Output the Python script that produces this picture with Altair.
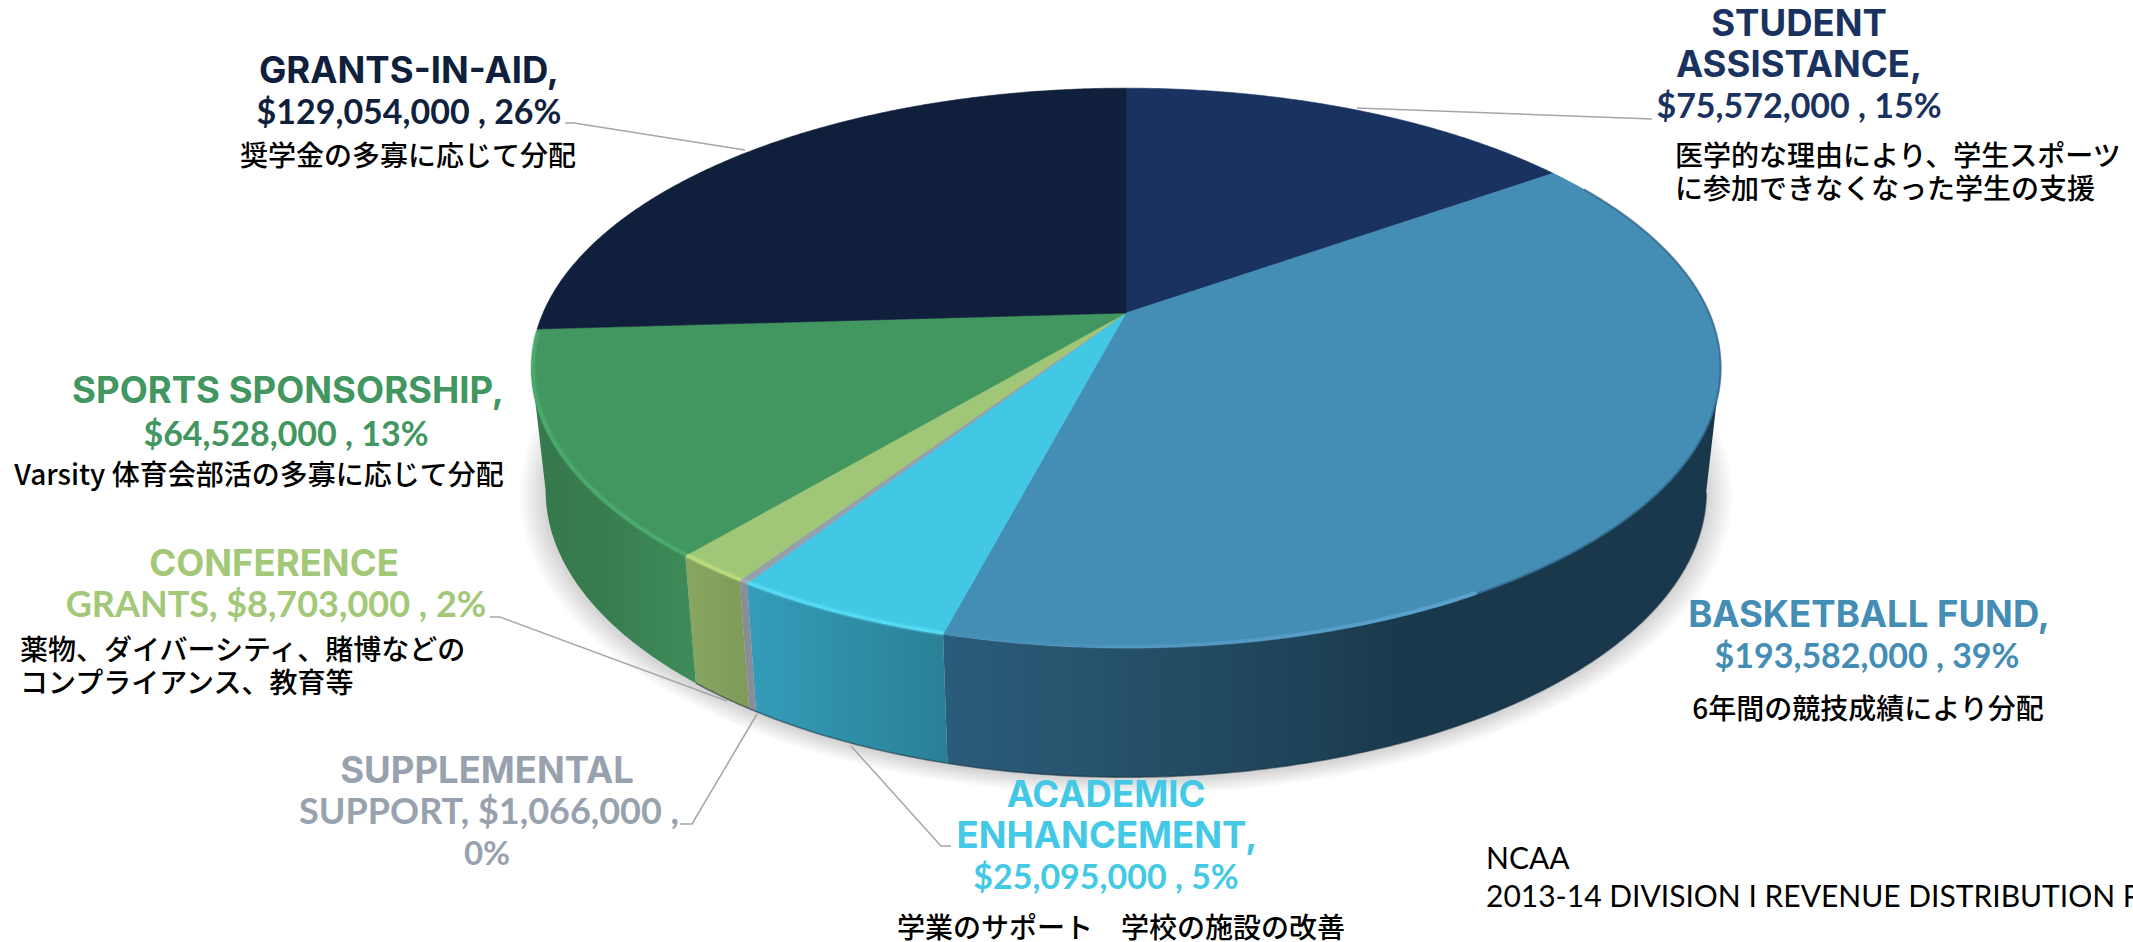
import numpy as np
import pandas as pd
import altair as alt

# Distribution amounts, clockwise from twelve o'clock
categories = ["Student Assistance", "Basketball Fund", "Academic Enhancement",
              "Supplemental Support", "Conference Grants", "Sports Sponsorship", "Grants-in-Aid"]
amounts = [75572000, 193582000, 25095000, 1066000, 8703000, 64528000, 129054000]
top_colors = ["#1a3260", "#448db5", "#42c8e4", "#95a0ad", "#a0c677", "#429660", "#101f3b"]

W, H = 2133, 942

# Perspective disc: centre of the top face, axes, depth of the bottom face
CX, CY = 1126, 313
A, B, K = 583, 269, 0.1964
A2, B2, CY2 = 569, 275, 435

cum = np.cumsum([0] + amounts) / sum(amounts) * 360.0
LEFT_EXTREME = 258.7
RIGHT_EXTREME = 101.3


def rim(t1, t2, a=A, b=B, cy=CY, step=0.4):
    th = np.radians(np.append(np.arange(t1, t2, step), t2))
    u, v = np.sin(th), -np.cos(th)
    d = 1 - K * v
    return list(zip(CX + a * u / d, cy + b * v / d))


def scales():
    return (alt.X("x:Q", scale=alt.Scale(domain=[0, W], nice=False), axis=None),
            alt.Y("y:Q", scale=alt.Scale(domain=[H, 0], nice=False), axis=None))


def path(pts, **mark):
    df = pd.DataFrame(pts, columns=["x", "y"])
    df["i"] = range(len(df))
    x, y = scales()
    return alt.Chart(df).mark_line(**mark).encode(x=x, y=y, order=alt.Order("i:Q", sort="ascending"))


def ramp(stops, horizontal=True):
    return alt.Gradient(gradient="linear", x1=0, y1=0, x2=1 if horizontal else 0, y2=0 if horizontal else 1,
                        stops=[alt.GradientStop(offset=o, color=c) for o, c in stops])


layers = []

# Soft shadow under the disc
for n in range(14, 0, -1):
    g = n / 14
    a, b = A2 + 26 * g, B2 + 13 * g
    layers.append(path(rim(0, 360, a, b, CY2 + 2), fill="#000000", fillOpacity=0.011, strokeWidth=0))

# Front wall of each visible slice
walls = {
    1: (RIGHT_EXTREME, cum[2], [(0, "#2b5c7b"), (0.18, "#27536d"), (0.46, "#1e4358"), (0.6, "#1a384b"), (1, "#1a384b")]),
    2: (cum[2], cum[3], [(0, "#349db9"), (1, "#2a8096")]),
    3: (cum[3], cum[4], [(0, "#888d98"), (1, "#888d98")]),
    4: (cum[4], cum[5], [(0, "#89a661"), (1, "#7d9a59")]),
    5: (cum[5], LEFT_EXTREME, [(0, "#3f8b59"), (0.6, "#377c4f"), (1, "#35784b")]),
}
for idx, (t1, t2, stops) in walls.items():
    pts = rim(t1, t2) + rim(t1, t2, A2, B2, CY2)[::-1]
    if idx == 5:
        stops = [(1 - o, c) for o, c in stops][::-1]
    layers.append(path(pts, fill=ramp(stops), strokeWidth=0))

# Darker line where the wall meets the ground
layers.append(path(rim(cum[1] + 47, cum[5], A2, B2, CY2), stroke="#17303f", strokeWidth=1.6,
                   strokeOpacity=0.55))

# Top face of every slice
for i, c in enumerate(top_colors):
    pts = [(CX, CY)] + rim(cum[i], cum[i + 1]) + [(CX, CY)]
    layers.append(path(pts, fill=c, stroke=c, strokeWidth=0.6))

# Bevel highlight along the front rim
bevels = {
    5: ("#4fb573", cum[5], 266.0),
    4: ("#c8e67c", cum[4], cum[5]),
    3: ("#a9b2bd", cum[3], cum[4]),
    2: ("#5fe3fb", cum[2], cum[3]),
}
RA, RB = A * 0.997, B * 0.997
for i, (c, t1, t2) in bevels.items():
    line = rim(t1, t2, RA, RB)
    layers.append(path(line, stroke=c, strokeWidth=6, strokeOpacity=0.28))
    layers.append(path(line, stroke=c, strokeWidth=3, strokeOpacity=0.55))
layers.append(path(rim(150, cum[2], RA, RB),
                   stroke=ramp([(0, "rgba(96,168,212,0)"), (0.6, "rgba(96,168,212,0.55)"), (1, "rgba(96,168,212,0.8)")]),
                   strokeWidth=4))
# Shaded soft edge on the right of the disc
layers.append(path(rim(cum[1] + 5, 150), stroke="#2b5f80", strokeWidth=2.2, strokeOpacity=0.65))

# Leader lines from the slices to their labels
leaders = [
    [(1357, 108), (1652, 119)],
    [(565, 123), (574, 123), (745, 150)],
    [(490, 617), (500, 617), (727, 701)],
    [(680, 824), (692, 824), (757, 714)],
    [(951, 846), (941, 846), (851, 746)],
]
for leader in leaders:
    layers.append(path(leader, stroke="#a6a6a6", strokeWidth=1.5))

x, y = scales()

NAVY, INK, GREEN, LIME, GREY, CYAN, BLUE = "#1a3260", "#101f3b", "#429660", "#a2c878", "#98a2ae", "#43c9e6", "#448db5"

# Capitalised label lines
caps_text = ["STUDENT", "ASSISTANCE,", "GRANTS-IN-AID,", "SPORTS SPONSORSHIP,", "CONFERENCE",
             "SUPPLEMENTAL", "ACADEMIC", "ENHANCEMENT,", "BASKETBALL FUND,"]
caps_x = [1799, 1799, 409, 288, 274, 487, 1106, 1107, 1869]
caps_y = [36, 77, 83, 403, 576, 783, 807, 848, 627]
caps_c = [NAVY, NAVY, INK, GREEN, LIME, GREY, CYAN, CYAN, BLUE]
caps = pd.DataFrame({"x": caps_x, "y": caps_y, "t": caps_text, "c": caps_c})
layers.append(alt.Chart(caps).mark_text(font="Inter", fontWeight="bold", fontSize=36.5, align="center",
                                        baseline="alphabetic").encode(
    x=x, y=y, text="t:N", color=alt.Color("c:N", scale=None)))

# Amount and share lines
amount_text = ["$75,572,000 , 15%", "$129,054,000 , 26%", "$64,528,000 , 13%", "GRANTS, $8,703,000 , 2%",
               "SUPPORT, $1,066,000 ,", "0%", "$25,095,000 , 5%", "$193,582,000 , 39%"]
amount_x = [1799, 409, 286, 276, 489, 487, 1106, 1867]
amount_y = [118, 124, 446, 617, 824, 865, 889, 668]
amount_c = [NAVY, INK, GREEN, LIME, GREY, GREY, CYAN, BLUE]
amount_s = [34, 34, 34, 36, 36, 33, 34, 34]
amount_rows = pd.DataFrame({"x": amount_x, "y": amount_y, "t": amount_text, "c": amount_c, "s": amount_s})
layers.append(alt.Chart(amount_rows).mark_text(font="Lato", fontWeight="bold", align="center",
                                               baseline="alphabetic").encode(
    x=x, y=y, text="t:N", color=alt.Color("c:N", scale=None), size=alt.Size("s:Q", scale=None)))

# Japanese notes under the amounts
note_left = pd.DataFrame({
    "x": [1675, 1675, 20, 20],
    "y": [166, 199, 660, 693],
    "t": ["医学的な理由により、学生スポーツ", "に参加できなくなった学生の支援",
          "薬物、ダイバーシティ、賭博などの", "コンプライアンス、教育等"],
})
note_mid = pd.DataFrame({
    "x": [408, 259, 1121, 1868],
    "y": [166, 485, 938, 719],
    "t": ["奨学金の多寡に応じて分配", "Varsity 体育会部活の多寡に応じて分配",
          "学業のサポート　学校の施設の改善", "6年間の競技成績により分配"],
})
for df, al in ((note_left, "left"), (note_mid, "center")):
    layers.append(alt.Chart(df).mark_text(font="Noto Sans CJK JP", fontWeight=500, fontSize=28, align=al,
                                          baseline="alphabetic", color="#000000").encode(x=x, y=y, text="t:N"))

# Source note, running off the right edge
source = pd.DataFrame({"x": [1486, 1486], "y": [869, 907],
                       "t": ["NCAA", "2013-14 DIVISION I REVENUE DISTRIBUTION PLAN"]})
layers.append(alt.Chart(source).mark_text(font="Lato", fontSize=30, align="left", baseline="alphabetic",
                                          color="#000000").encode(x=x, y=y, text="t:N"))

chart = alt.layer(*layers).properties(
    width=W, height=H, padding=0, autosize=alt.AutoSizeParams(type="none"), background="#ffffff"
).configure_view(strokeWidth=0)

chart.save("out.html", embed_options={"renderer": "svg", "actions": False})
